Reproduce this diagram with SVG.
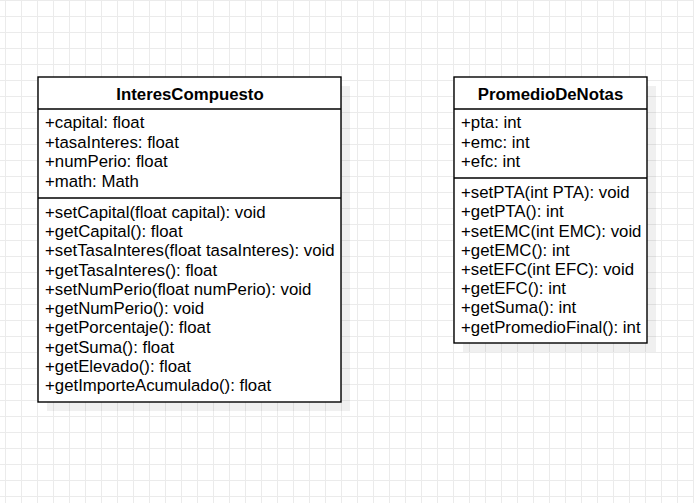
<svg xmlns="http://www.w3.org/2000/svg" width="694" height="503" viewBox="0 0 694 503">
  <defs>
    <pattern id="grid" patternUnits="userSpaceOnUse" x="5" y="0" width="16" height="16">
      <path d="M0 0.5 H16 M0.5 0 V16" fill="none" stroke="#ebebeb" stroke-width="1"/>
    </pattern>
    <style>
      .shadow { fill: #000000; fill-opacity: 0.06; }
      .box { fill: #ffffff; stroke: #000000; stroke-width: 1.4; }
      .sep { stroke: #000000; stroke-width: 1.4; }
      .title { font-family: "Liberation Sans", Arial, sans-serif; font-size: 16.8px; font-weight: bold; fill: #000000; text-anchor: middle; }
      .item { font-family: "Liberation Sans", Arial, sans-serif; font-size: 16.8px; fill: #000000; }
    </style>
  </defs>
  <rect x="0" y="0" width="694" height="503" fill="#ffffff"/>
  <rect x="0" y="0" width="694" height="503" fill="url(#grid)"/>

  <g id="connectors"></g>

  <g id="InteresCompuesto">
    <rect class="shadow" x="47" y="86" width="303" height="325"/>
    <rect class="box" x="38" y="77" width="303" height="325"/>
    <line class="sep" x1="38" y1="109" x2="341" y2="109"/>
    <line class="sep" x1="38" y1="198" x2="341" y2="198"/>
    <text class="title" x="190" y="99.8">InteresCompuesto</text>
    <text class="item" x="45" y="128">+capital: float</text>
    <text class="item" x="45" y="147.5">+tasaInteres: float</text>
    <text class="item" x="45" y="167">+numPerio: float</text>
    <text class="item" x="45" y="186.5">+math: Math</text>
    <text class="item" x="45" y="217.6">+setCapital(float capital): void</text>
    <text class="item" x="45" y="236.9">+getCapital(): float</text>
    <text class="item" x="45" y="256.2">+setTasaInteres(float tasaInteres): void</text>
    <text class="item" x="45" y="275.5">+getTasaInteres(): float</text>
    <text class="item" x="45" y="294.8">+setNumPerio(float numPerio): void</text>
    <text class="item" x="45" y="314.1">+getNumPerio(): void</text>
    <text class="item" x="45" y="333.4">+getPorcentaje(): float</text>
    <text class="item" x="45" y="352.7">+getSuma(): float</text>
    <text class="item" x="45" y="372">+getElevado(): float</text>
    <text class="item" x="45" y="391.3">+getImporteAcumulado(): float</text>
  </g>

  <g id="PromedioDeNotas">
    <rect class="shadow" x="463" y="86" width="193" height="266"/>
    <rect class="box" x="454" y="77" width="193" height="266"/>
    <line class="sep" x1="454" y1="109" x2="647" y2="109"/>
    <line class="sep" x1="454" y1="178" x2="647" y2="178"/>
    <text class="title" x="550.5" y="99.8">PromedioDeNotas</text>
    <text class="item" x="461" y="128">+pta: int</text>
    <text class="item" x="461" y="147.5">+emc: int</text>
    <text class="item" x="461" y="167">+efc: int</text>
    <text class="item" x="461" y="198">+setPTA(int PTA): void</text>
    <text class="item" x="461" y="217.3">+getPTA(): int</text>
    <text class="item" x="461" y="236.5">+setEMC(int EMC): void</text>
    <text class="item" x="461" y="255.7">+getEMC(): int</text>
    <text class="item" x="461" y="274.9">+setEFC(int EFC): void</text>
    <text class="item" x="461" y="294.1">+getEFC(): int</text>
    <text class="item" x="461" y="313.3">+getSuma(): int</text>
    <text class="item" x="461" y="332.5">+getPromedioFinal(): int</text>
  </g>
</svg>
